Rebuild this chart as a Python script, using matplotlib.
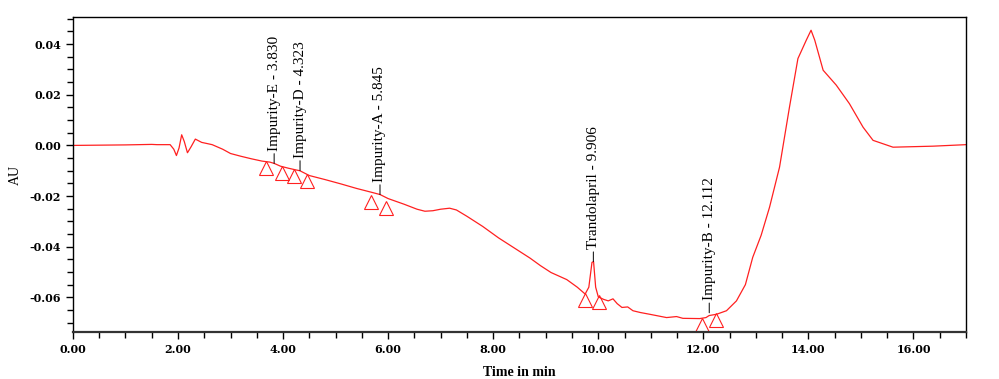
import matplotlib
matplotlib.use("Agg")
import matplotlib.pyplot as plt
from matplotlib.ticker import MultipleLocator, FormatStrFormatter

# ---- data ----
time_min = [0.00, 0.50, 1.00, 1.50, 1.60, 1.85, 1.92, 1.97, 2.02, 2.07, 2.12, 2.18,
            2.25, 2.33, 2.45, 2.65, 2.85, 3.00, 3.20, 3.40, 3.60, 3.75, 3.83, 3.95,
            4.10, 4.25, 4.32, 4.50, 4.80, 5.10, 5.40, 5.70, 5.845, 6.00, 6.30, 6.55,
            6.70, 6.85, 7.00, 7.17, 7.30, 7.50, 7.80, 8.10, 8.40, 8.70, 8.90, 9.10,
            9.40, 9.60, 9.75, 9.82, 9.88, 9.91, 9.95, 10.00, 10.10, 10.19, 10.28,
            10.36, 10.45, 10.56, 10.66, 10.80, 10.98, 11.30, 11.49, 11.61, 11.93,
            12.05, 12.11, 12.25, 12.44, 12.63, 12.80, 12.94, 13.10, 13.26, 13.45,
            13.64, 13.80, 13.96, 14.05, 14.12, 14.28, 14.53, 14.78, 15.04, 15.23,
            15.61, 16.37, 17.00]
au = [0.0000, 0.0001, 0.0002, 0.0004, 0.0003, 0.0003, -0.0015, -0.0040, -0.0010,
      0.0042, 0.0015, -0.0029, -0.0005, 0.0025, 0.0012, 0.0003, -0.0015, -0.0032,
      -0.0043, -0.0053, -0.0062, -0.0066, -0.0071, -0.0082, -0.0090, -0.0097,
      -0.0100, -0.0119, -0.0135, -0.0152, -0.0170, -0.0186, -0.0194, -0.0210,
      -0.0232, -0.0252, -0.0260, -0.0258, -0.0252, -0.0248, -0.0255, -0.0280,
      -0.0320, -0.0365, -0.0405, -0.0445, -0.0475, -0.0502, -0.0530, -0.0560,
      -0.0587, -0.0560, -0.0462, -0.0459, -0.0560, -0.0598, -0.0608, -0.0614,
      -0.0606, -0.0625, -0.0640, -0.0638, -0.0653, -0.0660, -0.0667, -0.0680,
      -0.0676, -0.0683, -0.0684, -0.0680, -0.0672, -0.0667, -0.0653, -0.0614,
      -0.0550, -0.0442, -0.0355, -0.0244, -0.0086, 0.0152, 0.0343, 0.0416,
      0.0455, 0.0416, 0.0297, 0.0238, 0.0165, 0.0072, 0.0020, -0.0007, -0.0003,
      0.0003]

peak_names = ["Impurity-E", "Impurity-D", "Impurity-A", "Trandolapril", "Impurity-B"]
peak_rt = [3.830, 4.323, 5.845, 9.906, 12.112]
peak_apex = [-0.0071, -0.0099, -0.0194, -0.0459, -0.0661]

marker_t = [3.673, 3.971, 4.205, 4.465, 5.683, 5.955, 9.741, 10.007, 11.973, 12.247]
marker_au = [-0.0088, -0.0110, -0.0119, -0.0141, -0.0225, -0.0247, -0.0610, -0.0618,
             -0.0709, -0.0689]

x_major = 2.0
x_minor = 0.5
y_major = 0.02
y_minor = 0.005

# ---- figure ----
fig = plt.figure(figsize=(9.99, 3.79), dpi=100)
ax = fig.add_axes([0.073, 0.124, 0.894, 0.831])

red = "#ff2020"
ax.plot(time_min, au, color=red, lw=0.9)
ax.plot(marker_t, marker_au, linestyle="none", marker="^", ms=10,
        mfc="none", mec=red, mew=0.8)

for name, rt, ap in zip(peak_names, peak_rt, peak_apex):
    ax.annotate(f"{name} - {rt:.3f}", xy=(rt, ap), xytext=(0, 9),
                textcoords="offset points", rotation=90, ha="center", va="bottom",
                fontsize=11, family="Liberation Serif", color="black",
                arrowprops=dict(arrowstyle="-", color="black", lw=0.7,
                                shrinkA=0, shrinkB=0))

ax.set_xlim(0, 17.0)
ax.set_ylim(-0.0737, 0.0507)

ax.xaxis.set_major_locator(MultipleLocator(x_major))
ax.xaxis.set_minor_locator(MultipleLocator(x_minor))
ax.yaxis.set_major_locator(MultipleLocator(y_major))
ax.yaxis.set_minor_locator(MultipleLocator(y_minor))
ax.xaxis.set_major_formatter(FormatStrFormatter("%.2f"))
ax.yaxis.set_major_formatter(FormatStrFormatter("%.2f"))

ax.tick_params(axis="both", which="major", direction="out", length=5, width=1,
               labelsize=8)
ax.tick_params(axis="both", which="minor", direction="out", length=4, width=1)
ax.tick_params(top=False, right=False)
for lab in ax.get_xticklabels() + ax.get_yticklabels():
    lab.set_family("DejaVu Serif")
    lab.set_fontweight("bold")

for s in ["top", "right", "left"]:
    ax.spines[s].set_linewidth(1.0)
ax.spines["bottom"].set_linewidth(1.6)
ax.spines["bottom"].set_color("#333333")

ax.set_xlabel("Time in min", family="Liberation Serif", fontweight="bold",
              fontsize=10, labelpad=8)
ax.set_ylabel("AU", family="Liberation Serif", fontsize=10)
ax.yaxis.set_label_coords(-0.057, 0.5)

fig.savefig("out.png", dpi=100)
